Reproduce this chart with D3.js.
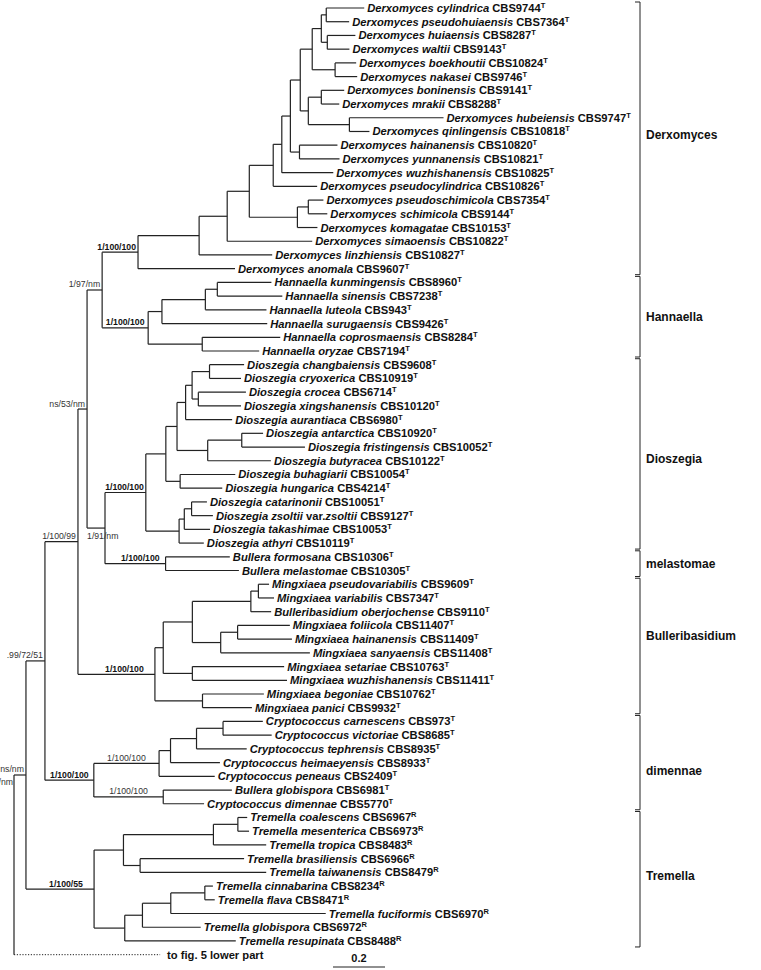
<!DOCTYPE html>
<html><head><meta charset="utf-8">
<script src="https://cdn.jsdelivr.net/npm/d3@7"></script>
<style>body{margin:0;background:#fff}svg{display:block}</style>
</head><body>
<svg id="c" width="761" height="970"></svg>
<script>
// ---------------- DATA ----------------
// taxon names ("^" toggles between italic and upright text)
const tipNames = [
 "Derxomyces cylindrica","Derxomyces pseudohuiaensis","Derxomyces huiaensis","Derxomyces waltii",
 "Derxomyces boekhoutii","Derxomyces nakasei","Derxomyces boninensis","Derxomyces mrakii",
 "Derxomyces hubeiensis","Derxomyces qinlingensis","Derxomyces hainanensis","Derxomyces yunnanensis",
 "Derxomyces wuzhishanensis","Derxomyces pseudocylindrica","Derxomyces pseudoschimicola","Derxomyces schimicola",
 "Derxomyces komagatae","Derxomyces simaoensis","Derxomyces linzhiensis","Derxomyces anomala",
 "Hannaella kunmingensis","Hannaella sinensis","Hannaella luteola","Hannaella surugaensis",
 "Hannaella coprosmaensis","Hannaella oryzae",
 "Dioszegia changbaiensis","Dioszegia cryoxerica","Dioszegia crocea","Dioszegia xingshanensis",
 "Dioszegia aurantiaca","Dioszegia antarctica","Dioszegia fristingensis","Dioszegia butyracea",
 "Dioszegia buhagiarii","Dioszegia hungarica","Dioszegia catarinonii","Dioszegia zsoltii ^var.^zsoltii",
 "Dioszegia takashimae","Dioszegia athyri",
 "Bullera formosana","Bullera melastomae",
 "Mingxiaea pseudovariabilis","Mingxiaea variabilis","Bulleribasidium oberjochense","Mingxiaea foliicola",
 "Mingxiaea hainanensis","Mingxiaea sanyaensis","Mingxiaea setariae","Mingxiaea wuzhishanensis",
 "Mingxiaea begoniae","Mingxiaea panici",
 "Cryptococcus carnescens","Cryptococcus victoriae","Cryptococcus tephrensis","Cryptococcus heimaeyensis",
 "Cryptococcus peneaus","Bullera globispora","Cryptococcus dimennae",
 "Tremella coalescens","Tremella mesenterica","Tremella tropica","Tremella brasiliensis",
 "Tremella taiwanensis","Tremella cinnabarina","Tremella flava","Tremella fuciformis",
 "Tremella globispora","Tremella resupinata"
];
const tipStrains = [
 "CBS9744","CBS7364","CBS8287","CBS9143","CBS10824","CBS9746","CBS9141","CBS8288","CBS9747","CBS10818",
 "CBS10820","CBS10821","CBS10825","CBS10826","CBS7354","CBS9144","CBS10153","CBS10822","CBS10827","CBS9607",
 "CBS8960","CBS7238","CBS943","CBS9426","CBS8284","CBS7194",
 "CBS9608","CBS10919","CBS6714","CBS10120","CBS6980","CBS10920","CBS10052","CBS10122","CBS10054","CBS4214",
 "CBS10051","CBS9127","CBS10053","CBS10119",
 "CBS10306","CBS10305",
 "CBS9609","CBS7347","CBS9110","CBS11407","CBS11409","CBS11408","CBS10763","CBS11411","CBS10762","CBS9932",
 "CBS973","CBS8685","CBS8935","CBS8933","CBS2409","CBS6981","CBS5770",
 "CBS6967","CBS6973","CBS8483","CBS6966","CBS8479","CBS8234","CBS8471","CBS6970","CBS6972","CBS8488"
];
const tipMarks = [
 "T","T","T","T","T","T","T","T","T","T","T","T","T","T","T","T","T","T","T","T",
 "T","T","T","T","T","T",
 "T","T","T","T","T","T","T","T","T","T","T","T","T","T",
 "T","T",
 "T","T","T","T","T","T","T","T","T","T",
 "T","T","T","T","T","T","T",
 "R","R","R","R","R","R","R","R","R","R"
];

// topology with branch lengths (substitutions/site); leaves are indices into the tip arrays
const nwDerx = "((((((((" +
  "(((0:0.146,1:0.088):0.019,(2:0.108,3:0.085):0.023):0.035,(4:0.081,5:0.085):0.088):0.046," +
  "((6:0.088,7:0.069):0.05,(8:0.362,9:0.077):0.158):0.031):0.038," +
  "(10:0.146,11:0.154):0.035):0.033," +
  "12:0.198):0.033," +
  "13:0.169):0.092," +
  "((14:0.058,15:0.073):0.042,16:0.077):0.185):0.085," +
  "17:0.327):0.108," +
  "18:0.281):0.235," +
  "19:0.373)Derx";
const nwHann = "((((20:0.208,21:0.25):0.046,22:0.235):0.167,23:0.405):0.053,(24:0.3,25:0.219):0.208)Hann";
const nwDios = "((((((26:0.133,27:0.121):0.067,(28:0.183,29:0.164):0.024):0.025,30:0.179):0.033," +
  "((31:0.082,32:0.243):0.131,33:0.243):0.118):0.043,(34:0.212,35:0.162):0.055):0.077," +
  "(((36:0.059,37:0.082):0.028,38:0.099):0.02,39:0.095):0.128)Dios";
const nwBull = "(40:0.247,41:0.282)Bull";
const nwMing = "(((((42:0.041,43:0.06):0.029,44:0.078):0.225,((45:0.201,46:0.209):0.065,47:0.343):0.109):0.112," +
  "(48:0.353,49:0.364):0.112):0.032,(50:0.236,51:0.19):0.183)Ming";
const nwDime = "(((((52:0.153,53:0.187):0.102,54:0.193):0.1,55:0.19):0.044,56:0.214)dimA:0.251," +
  "(57:0.264,58:0.157)dimB:0.267)Dime";
const nwTrem = "((((59:0.036,60:0.043):0.094,61:0.203):0.346,(62:0.4,63:0.485):0.064):0.113," +
  "((((64:0.031,65:0.038):0.131,66:0.596):0.109,67:0.224):0.068,68:0.427):0.118)Trem";
const nwBackbone = "((((((" + nwDerx + ":0.138," + nwHann + ":0.177)n197:0.058,(" +
  nwDios + ":0.157," + nwBull + ":0.233)n191:0.069)n53:0.035," +
  nwMing + ":0.296)n199:0.127," + nwDime + ":0.188)n99:0.073," +
  nwTrem + ":0.262)nsnm:0.046,lower:0.562);";

// support values (PP / ML bootstrap / NJ bootstrap)
const supportNode = ["Derx","Hann","Dios","Bull","Ming","Dime","dimA","dimB","Trem","n197","n191","n53","n199","n99","nsnm"];
const supportText = ["1/100/100","1/100/100","1/100/100","1/100/100","1/100/100","1/100/100","1/100/100","1/100/100",
  "1/100/55","1/97/nm","1/91/nm","ns/53/nm","1/100/99",".99/72/51","ns/nm"];
const supportStrong = [true,true,true,true,true,true,false,false,true,false,false,false,false,false,false];

// clades
const cladeNames = ["Derxomyces","Hannaella","Dioszegia","melastomae","Bulleribasidium","dimennae","Tremella"];
const cladeFirstTip = [0,20,26,40,42,52,59];
const cladeLastTip  = [19,25,39,41,51,58,68];

const outgroupText = "to fig. 5 lower part";
const scaleBarValue = 0.2;

// ---------------- PARSER ----------------
function parseNewick(s){
  let i = 0;
  function node(){
    const n = {children: []};
    if (s[i] === "(") {
      i++;
      n.children.push(node());
      while (s[i] === ",") { i++; n.children.push(node()); }
      i++;
    }
    let name = "";
    while (i < s.length && !",():;".includes(s[i])) name += s[i++];
    n.name = name;
    if (s[i] === ":") {
      i++; let num = "";
      while (i < s.length && !",();".includes(s[i])) num += s[i++];
      n.length = +num;
    }
    return n;
  }
  return node();
}

// ---------------- LAYOUT ----------------
const svg = d3.select("#c");
const FONT = "'Liberation Sans', Arial, Helvetica, sans-serif";
const x = d3.scaleLinear().domain([0, 1]).range([14, 274]);
const y = d3.scaleLinear().domain([0, 69]).range([8, 8 + 69 * 13.72]);

const root = d3.hierarchy(parseNewick(nwBackbone), d => d.children.length ? d.children : null);
root.eachBefore(d => { d.dist = d.parent ? d.parent.dist + (d.data.length || 0) : 0; });
root.leaves().forEach(l => { l.tip = l.data.name === "lower" ? 69 : +l.data.name; l.py = y(l.tip); });
root.eachAfter(d => { if (d.children) d.py = (d.children[0].py + d.children[d.children.length - 1].py) / 2; });

const nodes = root.descendants();
const byName = {};
nodes.forEach(d => { if (d.data.name) byName[d.data.name] = d; });

// ---------------- BRANCHES ----------------
const gTree = svg.append("g").attr("stroke", "#222").attr("stroke-width", 1.2).attr("fill", "none");
gTree.selectAll("line.h").data(nodes.filter(d => d.parent)).join("line")
  .attr("x1", d => x(d.parent.dist)).attr("x2", d => x(d.dist))
  .attr("y1", d => d.py).attr("y2", d => d.py)
  .attr("stroke-dasharray", d => d.data.name === "lower" ? "1.2,1.6" : null)
  .attr("stroke-width", d => d.data.name === "lower" ? 1 : null);
gTree.selectAll("line.v").data(nodes.filter(d => d.children)).join("line")
  .attr("x1", d => x(d.dist)).attr("x2", d => x(d.dist))
  .attr("y1", d => d.children[0].py).attr("y2", d => d.children[d.children.length - 1].py);

// ---------------- TIP LABELS ----------------
const gTips = svg.append("g").attr("font-family", FONT).attr("font-weight", "bold")
  .attr("font-size", 11.2).attr("fill", "#111");
root.leaves().forEach(l => {
  const t = gTips.append("text").attr("x", x(l.dist) + 3).attr("y", l.py + 4);
  if (l.tip === 69) { t.attr("x", x(l.dist) + 7).text(outgroupText); return; }
  const parts = tipNames[l.tip].split("^");
  parts.forEach((p, k) => t.append("tspan").attr("font-style", k % 2 === 0 ? "italic" : "normal").text(p));
  t.append("tspan").attr("font-style", "normal").text(" " + tipStrains[l.tip]);
  t.append("tspan").attr("font-size", 7.5).attr("dy", -4).text(tipMarks[l.tip]);
});

// ---------------- SUPPORT VALUES ----------------
const gSup = svg.append("g").attr("font-family", FONT).attr("font-size", 8.7).attr("fill", "#333");
const nudge = {Ming: 8, Trem: 6, Bull: 5};
supportNode.forEach((id, k) => {
  const d = byName[id];
  const px = x(d.parent.dist), cx = x(d.dist);
  const t = gSup.append("text").text(supportText[k])
    .attr("font-weight", supportStrong[k] ? "bold" : "normal")
    .attr("fill", supportStrong[k] ? "#111" : "#333");
  const w = t.node().getComputedTextLength();
  if (id === "n191") {
    t.attr("x", px).attr("y", d.py + 11);
  } else if (w < cx - px - 3) {
    t.attr("text-anchor", "middle").attr("x", (px + cx) / 2 + (nudge[id] || 0)).attr("y", d.py - 2.5);
  } else {
    t.attr("text-anchor", "end").attr("x", cx - 2).attr("y", d.py - 2.5);
  }
  if (id === "nsnm") {
    gSup.append("text").text("/nm").attr("text-anchor", "end").attr("x", px - 1).attr("y", d.py + 10);
  }
});

// ---------------- CLADE BRACKETS ----------------
const bx = 640;
const labelShift = [-4, 0, 5, 0, -10, 8, -4];
const gCl = svg.append("g");
cladeNames.forEach((name, k) => {
  const y0 = y(cladeFirstTip[k]) - 6, y1 = y(cladeLastTip[k]) + 6;
  gCl.append("path").attr("d", `M${bx - 5},${y0}H${bx}V${y1}H${bx - 5}`)
    .attr("fill", "none").attr("stroke", "#222").attr("stroke-width", 1);
  gCl.append("text").attr("x", bx + 6).attr("y", (y0 + y1) / 2 + 4.5 + labelShift[k])
    .attr("font-family", FONT).attr("font-weight", "bold").attr("font-size", 12).attr("fill", "#111")
    .text(name);
});

// ---------------- SCALE BAR ----------------
const sbx = 333, sby = 967;
svg.append("line").attr("x1", sbx).attr("x2", sbx + x(scaleBarValue) - x(0))
  .attr("y1", sby).attr("y2", sby).attr("stroke", "#222").attr("stroke-width", 1.2);
svg.append("text").attr("x", sbx + (x(scaleBarValue) - x(0)) / 2).attr("y", sby - 5)
  .attr("text-anchor", "middle").attr("font-family", FONT).attr("font-weight", "bold")
  .attr("font-size", 11).attr("fill", "#111").text(String(scaleBarValue));
</script>
</body></html>
